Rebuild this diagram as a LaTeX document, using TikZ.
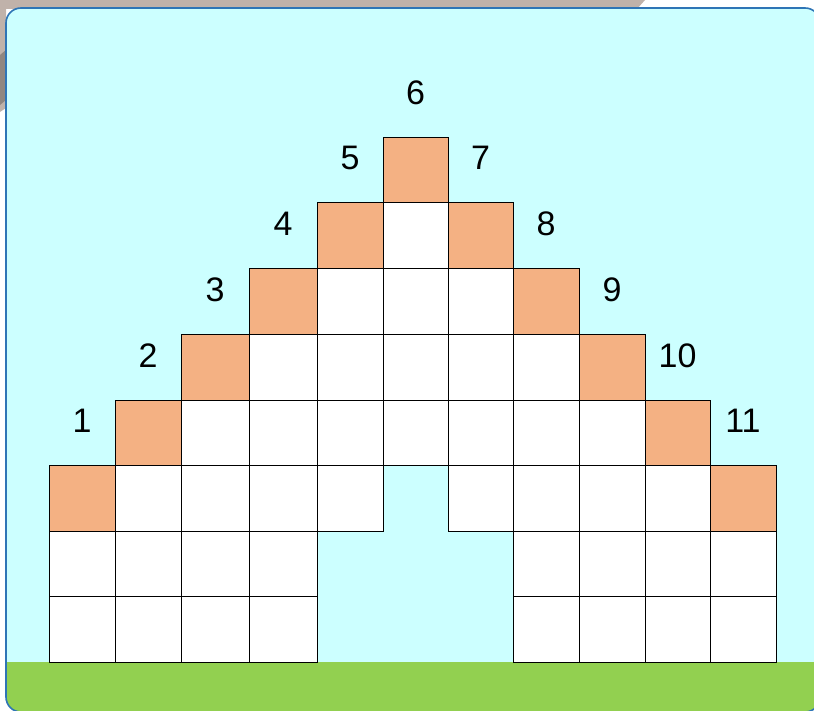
\documentclass[tikz,border=0pt]{standalone}
\usepackage{fontspec}
\setmainfont{Liberation Sans}
\usetikzlibrary{positioning}

\definecolor{panelbg}{RGB}{204,255,255}
\definecolor{panelrim}{RGB}{46,117,182}
\definecolor{grass}{RGB}{146,208,80}
\definecolor{brick}{RGB}{244,177,131}
\definecolor{smudge}{RGB}{192,178,170}

% column and row edges of the wall
\def\colx{{49,115,181,249,317,383,448,513,579,645,710,776}}
\def\rowy{{137,202,268,334,400,465,531,596,662}}

% one square: #1 style, #2 column, #3 row, #4 name
\newcommand\gridcell[4]{%
  \pgfmathsetmacro\xa{\colx[#2]}\pgfmathsetmacro\xb{\colx[#2+1]}%
  \pgfmathsetmacro\ya{\rowy[#3]}\pgfmathsetmacro\yb{\rowy[#3+1]}%
  \node[#1,minimum width=\xb pt-\xa pt,minimum height=\yb pt-\ya pt] (#4) at (\xa,\ya) {};}

\begin{document}
\begin{tikzpicture}[x=1pt,y=-1pt,
  cell/.style={draw=black,line width=.8pt,fill=white,anchor=north west,
    inner sep=0pt,outer sep=0pt},
  topcell/.style={cell,fill=brick},
  num/.style={font=\fontsize{34}{40}\selectfont,inner sep=0pt}
]
  \useasboundingbox (0,0) rectangle (814,711);
  % backdrop
  \fill[white] (0,0) rectangle (814,711);
  \fill[smudge] (0,0) -- (645,0) -- (637,9) -- (6,9) -- (6,108) -- (0,112) -- cycle;
  \fill[smudge!75!black] (0,55) -- (6,50) -- (6,100) -- (0,105) -- cycle;
  \begin{scope}
    \clip[rounded corners=15] (6,8) rectangle (820,712);
    \fill[panelbg] (6,8) rectangle (820,712);
    \fill[grass] (6,662) rectangle (820,712);
  \end{scope}
  \draw[panelrim,line width=1.6pt,rounded corners=15] (6,8) rectangle (820,712);

  % white squares
  \foreach \row/\a/\b in {1/5/5,2/4/6,3/3/7,4/2/8,5/1/4,5/6/9,6/0/3,6/7/10,7/0/3,7/7/10} {
    \foreach \col in {\a,...,\b} {
      \gridcell{cell}{\col}{\row}{w\row-\col}
    }
  }

  % orange squares with their numbers
  \foreach \n in {1,...,11} {
    \pgfmathtruncatemacro\col{\n-1}
    \pgfmathtruncatemacro\row{abs(6-\n)}
    \gridcell{topcell}{\col}{\row}{b\n}
    \node[num] (n\n) at ([yshift=44pt]b\n.north) {\n};
  }
\end{tikzpicture}
\end{document}
